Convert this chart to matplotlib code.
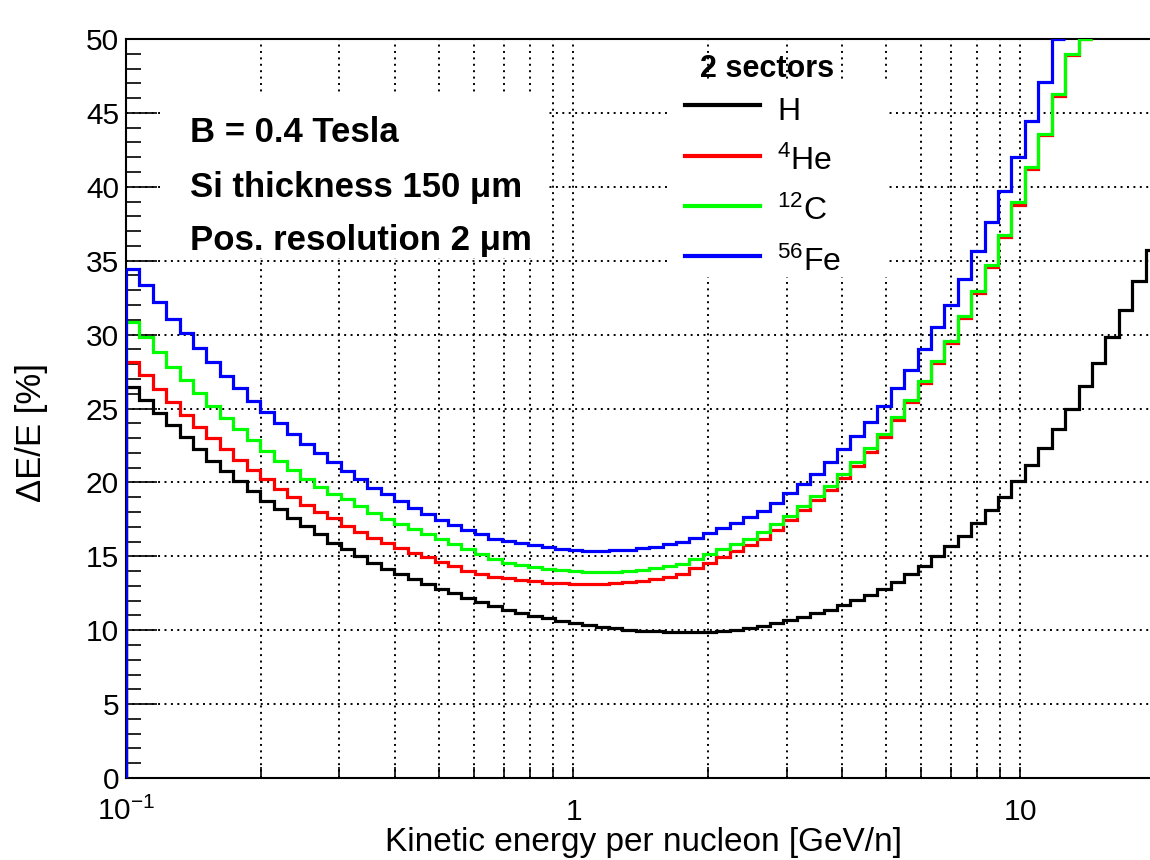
import numpy as np
import matplotlib.pyplot as plt
from matplotlib.lines import Line2D
from matplotlib.patches import Rectangle
from matplotlib.ticker import LogLocator, MultipleLocator, NullFormatter

plt.rcParams['font.family'] = ['Liberation Sans', 'DejaVu Sans']
plt.rcParams['mathtext.fontset'] = 'custom'
plt.rcParams['mathtext.rm'] = 'Liberation Sans'
plt.rcParams['mathtext.it'] = 'Liberation Sans:italic'
plt.rcParams['mathtext.bf'] = 'Liberation Sans:bold'

# histogram binning: 100 log bins from 0.1 to 100 GeV/n
bin_edges = np.logspace(-1, 2, 101)

# dE/E [%] per bin
res_H = [26.47, 25.57, 24.71, 23.86, 23.04, 22.23, 21.47, 20.74, 20.07, 19.43,
         18.76, 18.17, 17.59, 17.05, 16.50, 15.93, 15.48, 15.03, 14.58, 14.17,
         13.79, 13.45, 13.11, 12.82, 12.50, 12.21, 11.92, 11.65, 11.40, 11.17,
         10.98, 10.80, 10.62, 10.47, 10.33, 10.22, 10.13, 10.04, 9.97, 9.92,
         9.88, 9.87, 9.86, 9.89, 9.95, 10.02, 10.16, 10.29, 10.47, 10.68,
         10.90, 11.15, 11.40, 11.68, 12.05, 12.40, 12.80, 13.25, 13.80, 14.36,
         14.99, 15.67, 16.39, 17.27, 18.15, 19.02, 20.07, 21.15, 22.32, 23.61,
         24.98, 26.50, 28.07, 29.81, 31.64, 33.60, 35.74]
res_He = [28.17, 27.26, 26.31, 25.46, 24.58, 23.77, 22.98, 22.23, 21.51, 20.83,
          20.20, 19.57, 19.03, 18.50, 18.00, 17.56, 17.06, 16.65, 16.27, 15.93,
          15.59, 15.25, 14.92, 14.60, 14.31, 14.03, 13.80, 13.62, 13.50, 13.40,
          13.31, 13.22, 13.17, 13.13, 13.13, 13.15, 13.20, 13.26, 13.35, 13.47,
          13.62, 13.83, 14.22, 14.58, 14.98, 15.37, 15.77, 16.20, 16.80, 17.45,
          18.10, 18.80, 19.50, 20.30, 21.12, 22.05, 23.05, 24.20, 25.45, 26.70,
          28.05, 29.40, 31.10, 32.80, 34.60, 36.60, 38.80, 41.20, 43.50, 46.15,
          48.90, 50.00]
res_C = [30.87, 29.86, 28.84, 27.83, 26.92, 26.02, 25.19, 24.38, 23.61, 22.86,
         22.14, 21.47, 20.83, 20.23, 19.70, 19.20, 18.86, 18.41, 17.96, 17.51,
         17.17, 16.83, 16.50, 16.16, 15.82, 15.48, 15.14, 14.80, 14.55, 14.42,
         14.26, 14.14, 14.05, 13.98, 13.96, 13.96, 13.96, 14.00, 14.08, 14.19,
         14.32, 14.48, 14.85, 15.14, 15.48, 15.82, 16.20, 16.65, 17.17, 17.74,
         18.37, 19.09, 19.77, 20.56, 21.35, 22.36, 23.30, 24.40, 25.60, 26.83,
         28.19, 29.54, 31.23, 32.92, 34.73, 36.76, 38.95, 41.32, 43.60, 46.28,
         49.00, 50.00]
res_Fe = [34.41, 33.35, 32.23, 31.05, 30.08, 29.07, 28.12, 27.20, 26.36, 25.53,
          24.74, 24.00, 23.27, 22.60, 21.97, 21.35, 20.78, 20.22, 19.65, 19.20,
          18.75, 18.30, 17.85, 17.47, 17.10, 16.79, 16.50, 16.20, 16.05, 15.90,
          15.75, 15.61, 15.50, 15.43, 15.38, 15.38, 15.41, 15.45, 15.54, 15.65,
          15.83, 16.00, 16.27, 16.56, 16.90, 17.24, 17.69, 18.07, 18.59, 19.25,
          19.88, 20.56, 21.39, 22.25, 23.15, 24.12, 25.20, 26.38, 27.62, 29.02,
          30.49, 32.02, 33.78, 35.63, 37.59, 39.69, 41.99, 44.47, 47.07, 50.00]

series = [res_H, res_He, res_C, res_Fe]
labels = ['H', '$^{4}$He', '$^{12}$C', '$^{56}$Fe']
colors = ['#000000', '#ff0000', '#00ff00', '#0000ff']
x_tick_vals = [0.1, 1, 10]
x_tick_labels = ['$10^{-1}$', '$1$', '$10$']
info_lines = ['B = 0.4 Tesla', 'Si thickness 150 \u03bcm', 'Pos. resolution 2 \u03bcm']

fig = plt.figure(figsize=(11.5, 8.6), dpi=100)
ax = fig.add_axes([126 / 1150, 82 / 860, 1029 / 1150, 739 / 860])

for vals, col in zip(series, colors):
    ax.stairs(vals, bin_edges[:len(vals) + 1], baseline=None, color=col, lw=2.3, zorder=3)
    ax.vlines(bin_edges[0], 0, vals[0], color=col, lw=2.3, zorder=3)

ax.set_xscale('log')
ax.set_xlim(0.1, 20)
ax.set_ylim(0, 50)

ax.set_xticks(x_tick_vals, labels=x_tick_labels, va='baseline')
ax.xaxis.set_minor_locator(LogLocator(base=10, subs=np.arange(2, 10)))
ax.xaxis.set_minor_formatter(NullFormatter())
ax.yaxis.set_major_locator(MultipleLocator(5))
ax.yaxis.set_minor_locator(MultipleLocator(1))

ax.tick_params(axis='x', which='both', direction='in', length=8, width=1.2,
               labelsize=21.5, pad=30, top=False)
ax.tick_params(axis='y', which='major', direction='in', length=22, width=1.2,
               labelsize=21.5, pad=5, right=False)
ax.tick_params(axis='y', which='minor', direction='in', length=11, width=1.2, right=False)

grid_style = dict(color='black', linestyle=(0, (1, 2.3)), linewidth=1.4)
ax.grid(True, which='major', axis='both', **grid_style)
ax.grid(True, which='minor', axis='x', **grid_style)
ax.set_axisbelow(True)

for sp in ax.spines.values():
    sp.set_linewidth(1.5)

ax.set_xlabel('Kinetic energy per nucleon [GeV/n]', fontsize=24)
ax.xaxis.set_label_coords(0.503, -0.066)
ax.set_ylabel('\u0394E/E [%]', fontsize=25)
ax.yaxis.set_label_coords(-0.076, 0.468)

# white pave behind the info text
ax.add_patch(Rectangle((0.033, 0.704), 0.374, 0.22, transform=ax.transAxes,
                       facecolor='white', edgecolor='none', zorder=1.5))
for txt, yb in zip(info_lines, [0.8606, 0.7862, 0.7145]):
    ax.text(0.0622, yb, txt, transform=ax.transAxes, fontsize=25,
            fontweight='bold', va='baseline', zorder=4)

# legend
ax.add_patch(Rectangle((0.5267, 0.6786), 0.2148, 0.2632, transform=ax.transAxes,
                       facecolor='white', edgecolor='none', zorder=1.5))
ax.text(0.623, 0.9486, '2 sectors', transform=ax.transAxes, fontsize=22,
        fontweight='bold', ha='center', va='baseline', zorder=4)
handles = [Line2D([], [], color=c, lw=3) for c in colors]
leg = ax.legend(handles, labels, loc='upper left', bbox_to_anchor=(0.5432, 0.930),
                frameon=False, fontsize=23, handlelength=2.35, handleheight=1.4,
                labelspacing=0.42, handletextpad=0.53, borderpad=0, borderaxespad=0)
leg.set_zorder(5)

fig.savefig('out.png', dpi=100)
